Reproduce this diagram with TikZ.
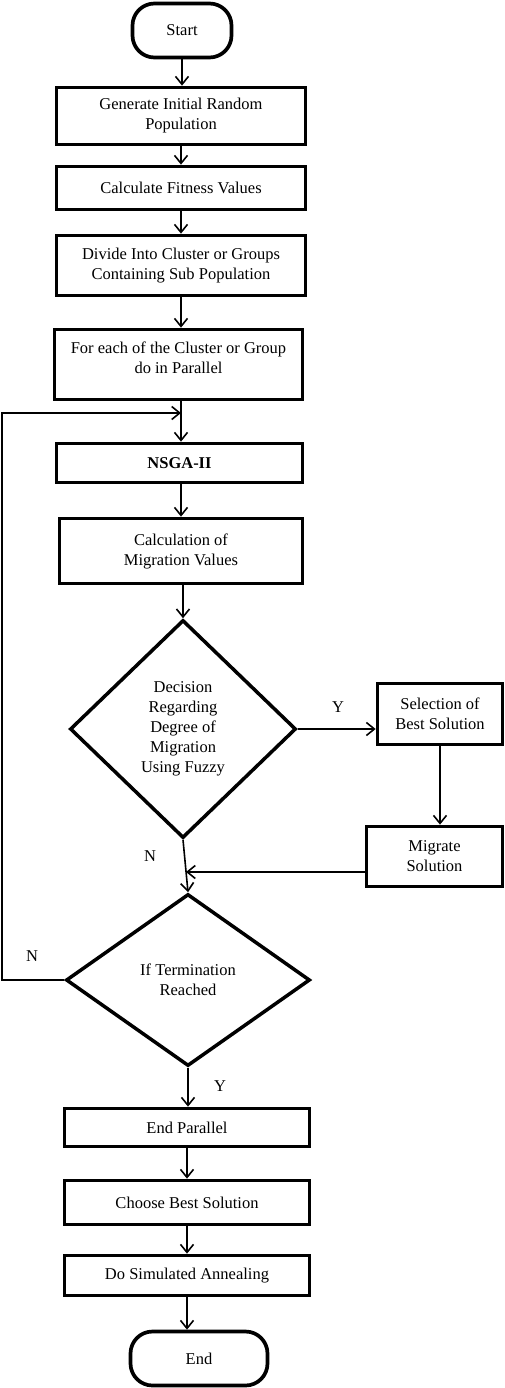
\documentclass[tikz,border=0pt]{standalone}
\usepackage{fontspec}
\setmainfont{Liberation Serif}
\usetikzlibrary{shapes.geometric,arrows.meta}
\begin{document}
\begin{tikzpicture}[x=1pt,y=-1pt,
  every node/.style={font=\fontsize{16.5}{20}\selectfont, align=center, inner sep=0pt},
  procbox/.style={draw, line width=3.7pt, rectangle},
  term/.style={draw, line width=3.7pt, rectangle, rounded corners=22pt},
  decis/.style={draw, line width=3.5pt, diamond},
  arr/.style={line width=1.6pt, -{Straight Barb[length=8pt,width=13pt,line width=1.6pt]}},
  ln/.style={line width=1.6pt}]
\useasboundingbox (0,0) rectangle (505,1388);
\node[term, minimum width=99pt, minimum height=54pt] (start) at (182,30.5) {Start};
\node[procbox, minimum width=249pt, minimum height=57pt] (gen) at (181,116) {Generate Initial Random\\Population};
\node[procbox, minimum width=249pt, minimum height=43pt] (calc) at (181,188) {Calculate Fitness Values};
\node[procbox, minimum width=249pt, minimum height=60pt] (div) at (181,265.5) {Divide Into Cluster or Groups\\Containing Sub Population};
\node[procbox, minimum width=248pt, minimum height=70pt, text depth=13pt] (fe) at (178.5,364.5) {For each of the Cluster or Group\\do in Parallel};
\node[procbox, minimum width=246pt, minimum height=39pt] (ns) at (179.5,463) {\textbf{NSGA-II}};
\node[procbox, minimum width=243pt, minimum height=65pt] (cm) at (181,551) {Calculation of\\Migration Values};
\node[decis, minimum width=226pt, minimum height=218pt] (d1) at (183,729) {Decision\\Regarding\\Degree of\\Migration\\Using Fuzzy};
\node[procbox, minimum width=125pt, minimum height=61pt] (sel) at (440,714) {Selection of\\Best Solution};
\node[procbox, minimum width=136pt, minimum height=60pt] (mig) at (434.5,856.5) {Migrate\\Solution};
\node[decis, minimum width=244pt, minimum height=172pt] (d2) at (188,980) {If Termination\\Reached};
\node[procbox, minimum width=245pt, minimum height=38pt] (ep) at (187,1127.5) {End Parallel};
\node[procbox, minimum width=245pt, minimum height=44pt] (cb) at (187,1202.5) {Choose Best Solution};
\node[procbox, minimum width=245pt, minimum height=40pt] (sa) at (187,1275.5) {Do Simulated Annealing};
\node[term, minimum width=137pt, minimum height=54pt] (end) at (199,1358.5) {End};
% labels
\node (ly1) at (338,707) {Y};
\node (ln1) at (150,856) {N};
\node (ln2) at (32,956) {N};
\node (ly2) at (220,1086) {Y};
% coordinates
\coordinate (fb) at (181,413);
\coordinate (jn) at (186,872);
% connectors
\draw[arr] (start.south) -- (start.south |- gen.north);
\draw[arr] (gen.south) -- (gen.south |- calc.north);
\draw[arr] (calc.south) -- (calc.south |- div.north);
\draw[arr] (div.south) -- (div.south |- fe.north);
\draw[arr] (fe.south -| fb) -- (fb |- ns.north);
\draw[arr] (ns.south -| fb) -- (fb |- cm.north);
\draw[arr] (cm.south -| d1.north) -- (d1.north);
\draw[arr] (d1.east) -- (d1.east -| sel.west);
\draw[arr] (sel.south) -- (sel.south |- mig.north);
\draw[arr] (mig.west |- jn) -- (jn);
\draw[arr] (d1.south) -- (d2.north);
\draw[arr] (d2.west) -- (2,980) |- (fb);
\draw[arr] (d2.south) -- (d2.south |- ep.north);
\draw[arr] (ep.south) -- (ep.south |- cb.north);
\draw[arr] (cb.south) -- (cb.south |- sa.north);
\draw[arr] (sa.south) -- (sa.south |- end.north);
\end{tikzpicture}
\end{document}
